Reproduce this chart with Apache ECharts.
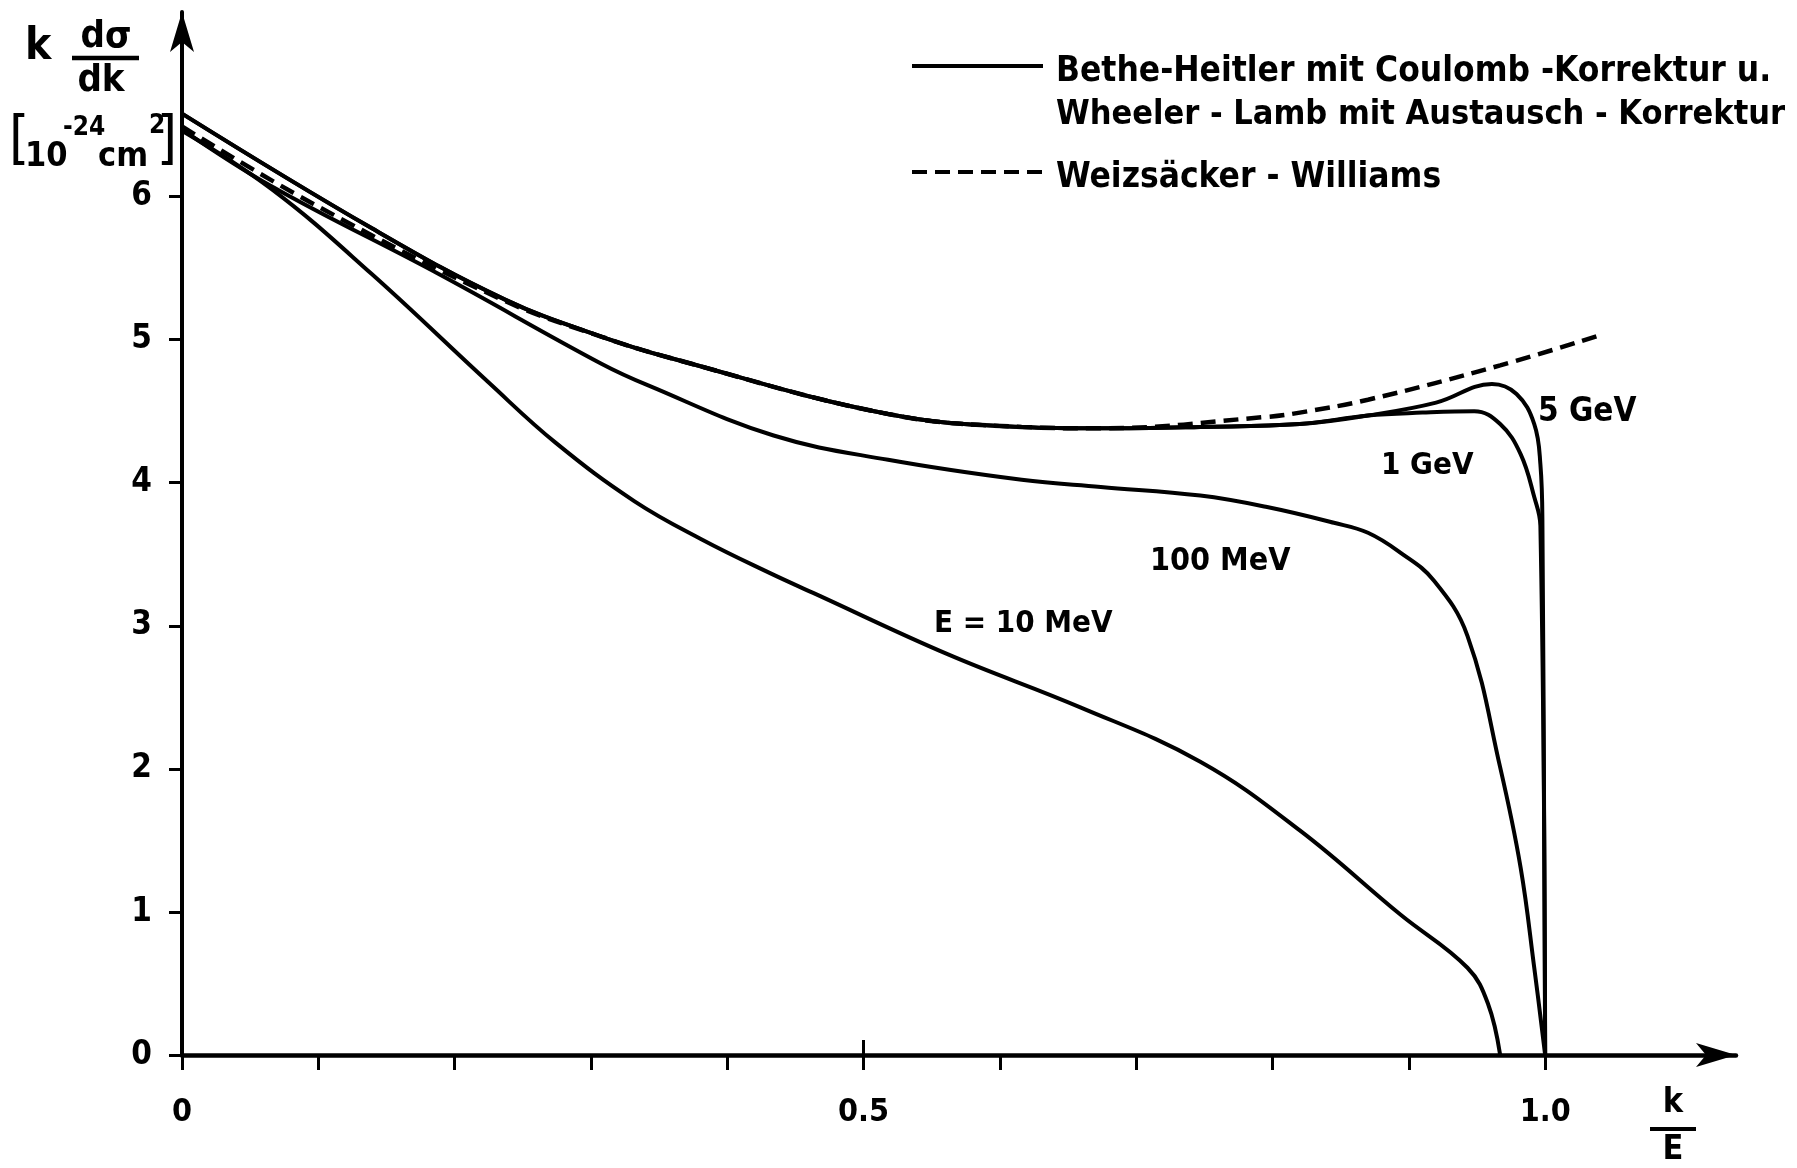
<!DOCTYPE html>
<html><head><meta charset="utf-8">
<script src="https://cdn.jsdelivr.net/npm/echarts@6/dist/echarts.min.js"></script>
<style>html,body{margin:0;padding:0;background:#fff}#c{width:1797px;height:1168px}</style>
</head><body><div id="c"></div>
<script>
// ---- data (k/E on x, k dσ/dk in 10^-24 cm^2 on y) ----
const tenMeV_k = [0, 0.066, 0.139, 0.225, 0.274, 0.332, 0.382, 0.431, 0.463, 0.562, 0.659, 0.747, 0.820, 0.894, 0.943, 0.958, 0.967];
const tenMeV_y = [6.46, 6.05, 5.46, 4.70, 4.28, 3.87, 3.60, 3.37, 3.23, 2.80, 2.43, 2.05, 1.57, 0.98, 0.61, 0.36, 0];

const hundredMeV_k = [0, 0.066, 0.188, 0.308, 0.342, 0.434, 0.518, 0.616, 0.674, 0.747, 0.796, 0.845, 0.870, 0.894, 0.918, 0.943, 0.967, 0.982, 0.992, 1.0];
const hundredMeV_y = [6.47, 6.07, 5.46, 4.83, 4.68, 4.33, 4.16, 4.02, 3.97, 3.91, 3.83, 3.72, 3.65, 3.51, 3.32, 2.93, 2.01, 1.31, 0.61, 0];

const highE_k = [0, 0.139, 0.237, 0.308, 0.359, 0.518, 0.616, 0.674, 0.747, 0.820, 0.870];
const highE_y = [6.58, 5.78, 5.28, 5.02, 4.87, 4.48, 4.39, 4.38, 4.39, 4.41, 4.47];

const oneGeV_tail_k = [0.91, 0.948, 0.967, 0.982, 0.992, 0.9965, 1.0];
const oneGeV_tail_y = [4.49, 4.50, 4.41, 4.20, 3.90, 3.70, 0];

const fiveGeV_tail_k = [0.92, 0.961, 0.979, 0.992, 0.9965, 0.998, 1.0];
const fiveGeV_tail_y = [4.56, 4.69, 4.62, 4.41, 4.13, 3.70, 0];

const ww_k = [0, 0.098, 0.237, 0.308, 0.359, 0.518, 0.616, 0.674, 0.796, 0.820, 0.870, 0.967, 1.040];
const ww_y = [6.49, 5.94, 5.27, 5.02, 4.87, 4.48, 4.39, 4.38, 4.46, 4.49, 4.58, 4.82, 5.03];

const xMinorTicks = [0, 0.1, 0.2, 0.3, 0.4, 0.5, 0.6, 0.7, 0.8, 0.9, 1.0];
const xMajorTicks = [0, 0.5, 1.0];
const xTickLabels = ['0', '0.5', '1.0'];
const yTicks = [0, 1, 2, 3, 4, 5, 6];

const curveLabels = ['5 GeV', '1 GeV', '100 MeV', 'E = 10 MeV'];
const legendTexts = ['Bethe-Heitler mit Coulomb -Korrektur u.', 'Wheeler - Lamb mit Austausch - Korrektur', 'Weizsäcker - Williams'];

// ---- build ----
const FONT = "'DejaVu Sans Condensed', 'Liberation Sans Narrow', sans-serif";
const pairs = (k, y) => k.map((v, i) => [v, y[i]]);
const solid = { color: '#000', width: 4 };

const chart = echarts.init(document.getElementById('c'), null, { renderer: 'canvas' });

const lineSeries = (name, data, style) => ({
  name, type: 'line', data, showSymbol: false, symbol: 'none',
  smooth: 0.4, lineStyle: style, animation: false, z: 3
});

const txt = (x, y, text, size) => ({ type: 'text', x, y, style: { text, font: 'bold ' + size + 'px ' + FONT, fill: '#000', textVerticalAlign: 'middle' } });
const t2 = (x, y, text, font, align, valign) => ({ type: 'text', x, y, style: { text, font: font, fill: '#000', textAlign: align || 'left', textVerticalAlign: valign || 'middle' } });

chart.setOption({
  animation: false,
  backgroundColor: '#fff',
  grid: { left: 182, right: 61, top: 12, bottom: 113 },
  xAxis: [{
    type: 'value', min: 0, max: 1.14, position: 'bottom',
    axisLine: { show: true, onZero: false, symbol: ['none', 'arrow'], symbolSize: [18, 40], lineStyle: { color: '#000', width: 4.5 } },
    axisTick: { show: true, customValues: xMinorTicks, length: 15, lineStyle: { color: '#000', width: 3 } },
    axisLabel: { show: true, customValues: xMajorTicks, formatter: v => xTickLabels[xMajorTicks.indexOf(v)] || '', color: '#000', fontSize: 32, fontFamily: FONT, fontWeight: 'bold', margin: 42 },
    splitLine: { show: false }
  }, {
    type: 'value', min: 0, max: 1.14, position: 'bottom',
    axisLine: { show: false },
    axisTick: { show: true, inside: true, customValues: xMajorTicks, length: 15, lineStyle: { color: '#000', width: 3 } },
    axisLabel: { show: false }, splitLine: { show: false }
  }],
  yAxis: {
    type: 'value', min: 0, max: 7.29,
    axisLine: { show: true, onZero: false, symbol: ['none', 'arrow'], symbolSize: [18, 40], lineStyle: { color: '#000', width: 4 } },
    axisTick: { show: true, customValues: yTicks, length: 13, lineStyle: { color: '#000', width: 3 } },
    axisLabel: { show: true, customValues: yTicks, color: '#000', fontSize: 33, fontFamily: FONT, fontWeight: 'bold', margin: 30 },
    splitLine: { show: false }
  },
  series: [
    lineSeries('E = 10 MeV', pairs(tenMeV_k, tenMeV_y), solid),
    lineSeries('100 MeV', pairs(hundredMeV_k, hundredMeV_y), solid),
    lineSeries('1 GeV', pairs(highE_k.concat(oneGeV_tail_k), highE_y.concat(oneGeV_tail_y)), solid),
    lineSeries('5 GeV', pairs(highE_k.concat(fiveGeV_tail_k), highE_y.concat(fiveGeV_tail_y)), solid),
    lineSeries('Weizsäcker-Williams', pairs(ww_k, ww_y), { color: '#000', width: 4.5, type: [15, 8] })
  ],
  graphic: [
    // y-axis title: k dσ/dk [10^-24 cm^2]
    { type: 'text', left: 25, top: 26, style: { text: 'k', font: 'bold 44px ' + FONT, fill: '#000' } },
    t2(106, 37, 'dσ', 'bold 38px ' + FONT, 'center'),
    { type: 'line', shape: { x1: 72, y1: 58, x2: 139, y2: 58 }, style: { stroke: '#000', lineWidth: 4.5 } },
    t2(101, 81, 'dk', 'bold 38px ' + FONT, 'center'),
    t2(9, 143, '[', '58px ' + FONT, 'left'),
    t2(25, 174, '10', 'bold 34px ' + FONT, 'left', 'bottom'),
    t2(63, 128, '-24', 'bold 26px ' + FONT, 'left', 'middle'),
    t2(98, 174, 'cm', 'bold 34px ' + FONT, 'left', 'bottom'),
    t2(149, 126, '2', 'bold 26px ' + FONT, 'left', 'middle'),
    t2(177, 143, ']', '58px ' + FONT, 'right'),
    // x-axis title k/E
    t2(1673, 1103, 'k', 'bold 34px ' + FONT, 'center'),
    { type: 'line', shape: { x1: 1650, y1: 1129, x2: 1696, y2: 1129 }, style: { stroke: '#000', lineWidth: 4 } },
    t2(1673, 1150, 'E', 'bold 34px ' + FONT, 'center'),
    // legend
    { type: 'line', shape: { x1: 912, y1: 66, x2: 1043, y2: 66 }, style: { stroke: '#000', lineWidth: 4 } },
    txt(1056, 72, legendTexts[0], 35),
    txt(1056, 115, legendTexts[1], 34),
    { type: 'line', shape: { x1: 912, y1: 172, x2: 1043, y2: 172 }, style: { stroke: '#000', lineWidth: 4, lineDash: [15, 8] } },
    txt(1056, 178, legendTexts[2], 35),
    // curve labels
    txt(1538, 412, curveLabels[0], 33),
    txt(1381, 466, curveLabels[1], 31),
    txt(1150, 562, curveLabels[2], 32),
    txt(934, 624, curveLabels[3], 31)
  ]
});
</script></body></html>
